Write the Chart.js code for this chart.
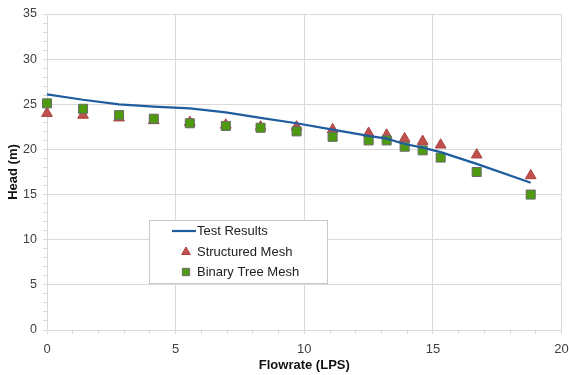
<!DOCTYPE html>
<html>
<head>
<meta charset="utf-8">
<script src="https://cdn.jsdelivr.net/npm/chart.js@4/dist/chart.umd.min.js"></script>
<style>
  html, body { margin: 0; padding: 0; background: #fff; }
  #wrap { width: 569px; height: 375px; position: relative; }
</style>
</head>
<body>
<div id="wrap"><canvas id="headChart"></canvas></div>
<script>
// flowrate (LPS) for each measured point
const flowrate = [0, 1.4, 2.8, 4.15, 5.55, 6.95, 8.3, 9.7, 11.1, 12.5, 13.2, 13.9, 14.6, 15.3, 16.7, 18.8];
// head (m)
const testHead = [26.1, 25.5, 25.0, 24.75, 24.55, 24.1, 23.5, 22.9, 22.2, 21.5, 21.2, 20.6, 20.2, 19.7, 18.4, 16.3];
const structuredHead = [24.0, 23.8, 23.5, 23.2, 23.0, 22.7, 22.5, 22.5, 22.2, 21.8, 21.6, 21.2, 20.9, 20.5, 19.4, 17.1];
const binaryHead = [25.1, 24.5, 23.8, 23.4, 22.9, 22.6, 22.4, 22.0, 21.4, 21.0, 21.0, 20.3, 19.9, 19.1, 17.5, 15.0];

const xMax = 20, yMax = 35, majorStep = 5;

const font = 'Liberation Sans, Arial, sans-serif';
const gridGray = '#d9d9d9';

const pts = (ys) => flowrate.map((x, i) => ({ x, y: ys[i] }));

// legend drawn inside the plot, like the original
const boxLegend = {
  id: 'boxLegend',
  afterDraw(chart) {
    const ctx = chart.ctx;
    const ds = chart.data.datasets;
    const left = 149, top = 220, w = 178, h = 63;
    ctx.save();
    ctx.fillStyle = '#fff';
    ctx.fillRect(left, top, w, h);
    ctx.strokeStyle = '#c8c8c8';
    ctx.lineWidth = 1;
    ctx.strokeRect(left + 0.5, top + 0.5, w, h);
    ctx.font = '13px ' + font;
    ctx.textBaseline = 'middle';
    const rows = [231, 252, 272];
    ds.forEach((d, i) => {
      const y = rows[i];
      if (d.showLine) {
        ctx.strokeStyle = d.borderColor;
        ctx.lineWidth = d.borderWidth;
        ctx.beginPath();
        ctx.moveTo(172, y);
        ctx.lineTo(196, y);
        ctx.stroke();
      } else {
        ctx.fillStyle = d.pointBackgroundColor;
        ctx.strokeStyle = d.pointBorderColor;
        ctx.lineWidth = 1;
        Chart.helpers.drawPoint(ctx, { pointStyle: d.pointStyle, radius: d.pointRadius - 1.2, borderWidth: 1 }, 186, y);
      }
      ctx.fillStyle = '#222';
      ctx.fillText(d.label, 197, y);
    });
    ctx.restore();
  }
};

new Chart(document.getElementById('headChart'), {
  type: 'scatter',
  data: {
    datasets: [
      {
        label: 'Test Results',
        data: pts(testHead),
        showLine: true,
        borderColor: '#1f5c9e',
        borderWidth: 2.2,
        pointRadius: 0,
        tension: 0,
        clip: false,
        order: 0,
      },
      {
        label: 'Structured Mesh',
        data: pts(structuredHead),
        showLine: false,
        pointStyle: 'triangle',
        pointRadius: 6.2,
        pointBackgroundColor: '#c0504d',
        pointBorderColor: '#a9443f',
        pointBorderWidth: 1,
        clip: false,
        order: 2,
      },
      {
        label: 'Binary Tree Mesh',
        data: pts(binaryHead),
        showLine: false,
        pointStyle: 'rect',
        pointRadius: 6.4,
        pointBackgroundColor: '#4e9a0f',
        pointBorderColor: '#6a6a6a',
        pointBorderWidth: 1,
        clip: false,
        order: 1,
      },
    ],
  },
  options: {
    responsive: true, maintainAspectRatio: false, animation: false,
    layout: { padding: { top: 14, right: 0, left: 0, bottom: 0 } },
    plugins: { legend: { display: false }, tooltip: { enabled: false } },
    scales: {
      x: {
        type: 'linear', min: 0, max: xMax,
        afterFit: (s) => { s.height = 45; s.paddingRight = 7; s.paddingLeft = 0; },
        border: { color: gridGray },
        grid: {
          color: (c) => (c.tick && c.tick.value % majorStep === 0 ? gridGray : 'rgba(0,0,0,0)'),
          tickColor: gridGray, tickLength: 4,
        },
        ticks: {
          stepSize: 1, autoSkip: false, maxRotation: 0, padding: 8,
          color: '#404040', font: { family: font, size: 13 },
          callback: (v) => (v % majorStep === 0 ? v : ''),
        },
        title: {
          display: true, text: 'Flowrate (LPS)', color: '#111',
          font: { family: font, size: 13, weight: 'bold' }, padding: { top: 5, bottom: 2 },
        },
      },
      y: {
        type: 'linear', min: 0, max: yMax,
        afterFit: (s) => { s.width = 47; },
        border: { color: gridGray },
        grid: {
          color: (c) => (c.tick && c.tick.value % majorStep === 0 ? gridGray : 'rgba(0,0,0,0)'),
          tickColor: gridGray, tickLength: 4,
        },
        ticks: {
          stepSize: 1, autoSkip: false, padding: 6,
          color: '#404040', font: { family: font, size: 12.5 },
          callback: (v) => (v % majorStep === 0 ? v : ''),
        },
        title: {
          display: true, text: 'Head (m)', color: '#111',
          font: { family: font, size: 13, weight: 'bold' }, padding: { top: 6, bottom: 0 },
        },
      },
    },
  },
  plugins: [boxLegend],
});
</script>
</body>
</html>
